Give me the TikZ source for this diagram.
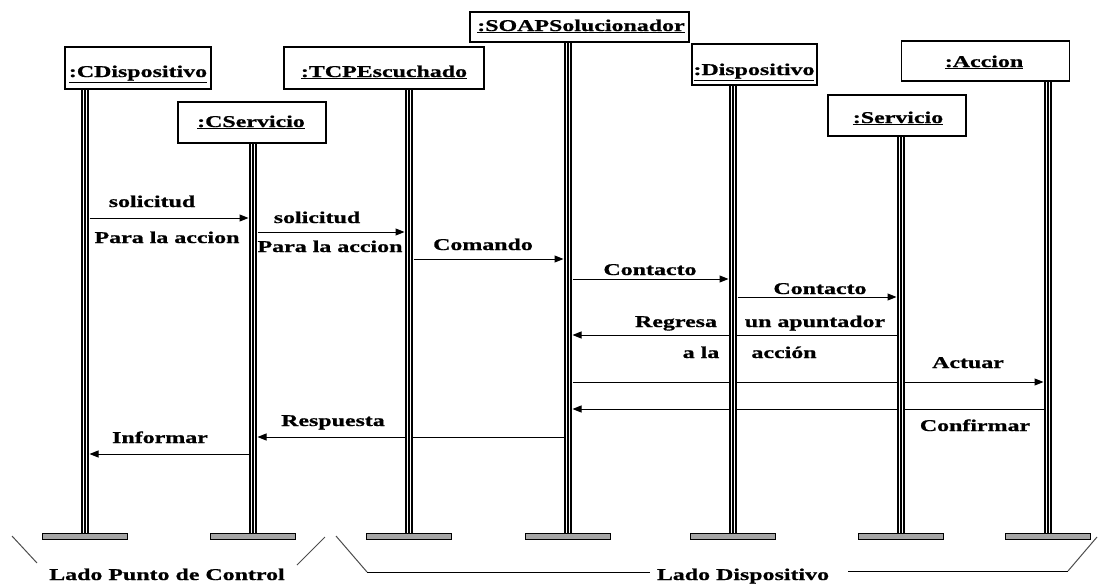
\documentclass[tikz,border=0pt]{standalone}
\usepackage{fontspec}
\setmainfont{Liberation Serif}[FakeStretch=1.45]
\newfontfamily\labelfont{Liberation Serif}[FakeStretch=1.45, FakeBold=0.8]
\usetikzlibrary{arrows.meta}

\tikzset{
  lbl/.style={font=\fontsize{16.5}{19}\labelfont\bfseries, inner sep=0pt, anchor=base},
  objbox/.style={draw=black, line width=1.5pt, fill=white, inner sep=0pt},
  pedestal/.style={draw=black, line width=1pt, fill=gray!70, minimum width=85pt, minimum height=6pt, inner sep=0pt},
  lifeline/.style={preaction={draw=black, line width=8.5pt},
                   draw=white, line width=1.2pt, double=black, double distance=1.6pt},
  msg/.style={draw=black, line width=1pt, -{Triangle[length=9pt,width=7pt]},
              shorten >=4.5pt, shorten <=4.5pt},
  bracket/.style={draw=black!70, line width=1pt},
}

\begin{document}
\begin{tikzpicture}[x=1pt, y=-1pt]
\useasboundingbox (0,0) rectangle (1098,584);

% object boxes
\node[objbox, minimum width=146pt, minimum height=42pt] (cdisp) at (138,68) {};
\node[objbox, minimum width=148pt, minimum height=41pt] (cserv) at (252,122.5) {};
\node[objbox, minimum width=200pt, minimum height=42pt] (tcp)   at (384,68) {};
\node[objbox, minimum width=219pt, minimum height=30pt] (soap)  at (579.5,27) {};
\node[objbox, minimum width=125pt, minimum height=41pt] (disp)  at (754.5,64.5) {};
\node[objbox, minimum width=138pt, minimum height=41pt] (serv)  at (897,115.5) {};
\node[objbox, minimum width=168pt, minimum height=40pt] (acc)   at (985.5,61) {};

% object names
\node[lbl] (tcdisp) at (138,77)   {\underline{:CDispositivo}};
\node[lbl] (tcserv) at (251,127)  {\underline{:CServicio}};
\node[lbl] (ttcp)   at (384,77)   {\underline{:TCPEscuchado}};
\node[lbl] (tsoap)  at (581,31)   {\underline{:SOAPSolucionador}};
\node[lbl] (tdisp)  at (754,75)   {\underline{:Dispositivo}};
\node[lbl] (tserv)  at (898,123)  {\underline{:Servicio}};
\node[lbl] (tacc)   at (984,67)   {\underline{:Accion}};

% pedestals at the foot of each lifeline
\node[pedestal] (pcd)   at (85,536)   {};
\node[pedestal] (pcs)   at (253,536)  {};
\node[pedestal] (ptcp)  at (409,536)  {};
\node[pedestal] (psoap) at (568,536)  {};
\node[pedestal] (pdis)  at (733,536)  {};
\node[pedestal] (pser)  at (901,536)  {};
\node[pedestal] (pacc)  at (1048,536) {};

% messages
\draw[msg] (pcd |- 0,218)   -- (pcs |- 0,218);
\draw[msg] (pcs |- 0,232)   -- (ptcp |- 0,232);
\draw[msg] (ptcp |- 0,259)  -- (psoap |- 0,259);
\draw[msg] (psoap |- 0,279) -- (pdis |- 0,279);
\draw[msg] (pdis |- 0,297)  -- (pser |- 0,297);
\draw[msg] (pser |- 0,335)  -- (psoap |- 0,335);
\draw[msg] (psoap |- 0,382) -- (pacc |- 0,382);
\draw[msg] (pacc |- 0,409)  -- (psoap |- 0,409);
\draw[msg] (psoap |- 0,437) -- (pcs |- 0,437);
\draw[msg] (pcs |- 0,454)   -- (pcd |- 0,454);

% lifelines
\foreach \p/\b in {pcd/cdisp, pcs/cserv, ptcp/tcp, psoap/soap, pdis/disp, pser/serv, pacc/acc}
  \draw[lifeline] (\p.north) -- (\p.north |- \b.south);

% message labels
\node[lbl] (m1a) at (152,207) {solicitud};
\node[lbl] (m1b) at (167,243) {Para la accion};
\node[lbl] (m2a) at (317,223) {solicitud};
\node[lbl] (m2b) at (330,252) {Para la accion};
\node[lbl] (m3)  at (483,250) {Comando};
\node[lbl] (m4)  at (650,275) {Contacto};
\node[lbl] (m5)  at (820,294) {Contacto};
\node[lbl] (m6a) at (676,327) {Regresa};
\node[lbl] (m6b) at (815,327) {un apuntador};
\node[lbl] (m6c) at (701,358) {a la};
\node[lbl] (m6d) at (784,358) {acción};
\node[lbl] (m7)  at (968,368) {Actuar};
\node[lbl] (m8)  at (975,431) {Confirmar};
\node[lbl] (m9)  at (333,426) {Respuesta};
\node[lbl] (m10) at (160,443) {Informar};

% side brackets
\coordinate (la1) at (12,536);
\coordinate (la2) at (37,563);
\coordinate (lb1) at (297,565);
\coordinate (lb2) at (325,537);
\draw[bracket] (la1) -- (la2);
\draw[bracket] (lb1) -- (lb2);
\node[lbl] (lpc) at (167,580) {Lado Punto de Control};

\coordinate (ra1) at (336,536);
\coordinate (ra2) at (367,572);
\coordinate (ra3) at (650,572);
\coordinate (rb1) at (848,571);
\coordinate (rb2) at (1068,571);
\coordinate (rb3) at (1097,537);
\draw[bracket] (ra1) -- (ra2);
\draw[black, line width=1pt] (ra2) -- (ra3);
\draw[black, line width=1pt] (rb1) -- (rb2);
\draw[bracket] (rb2) -- (rb3);
\node[lbl] (ld) at (743,580) {Lado Dispositivo};
\end{tikzpicture}
\end{document}
